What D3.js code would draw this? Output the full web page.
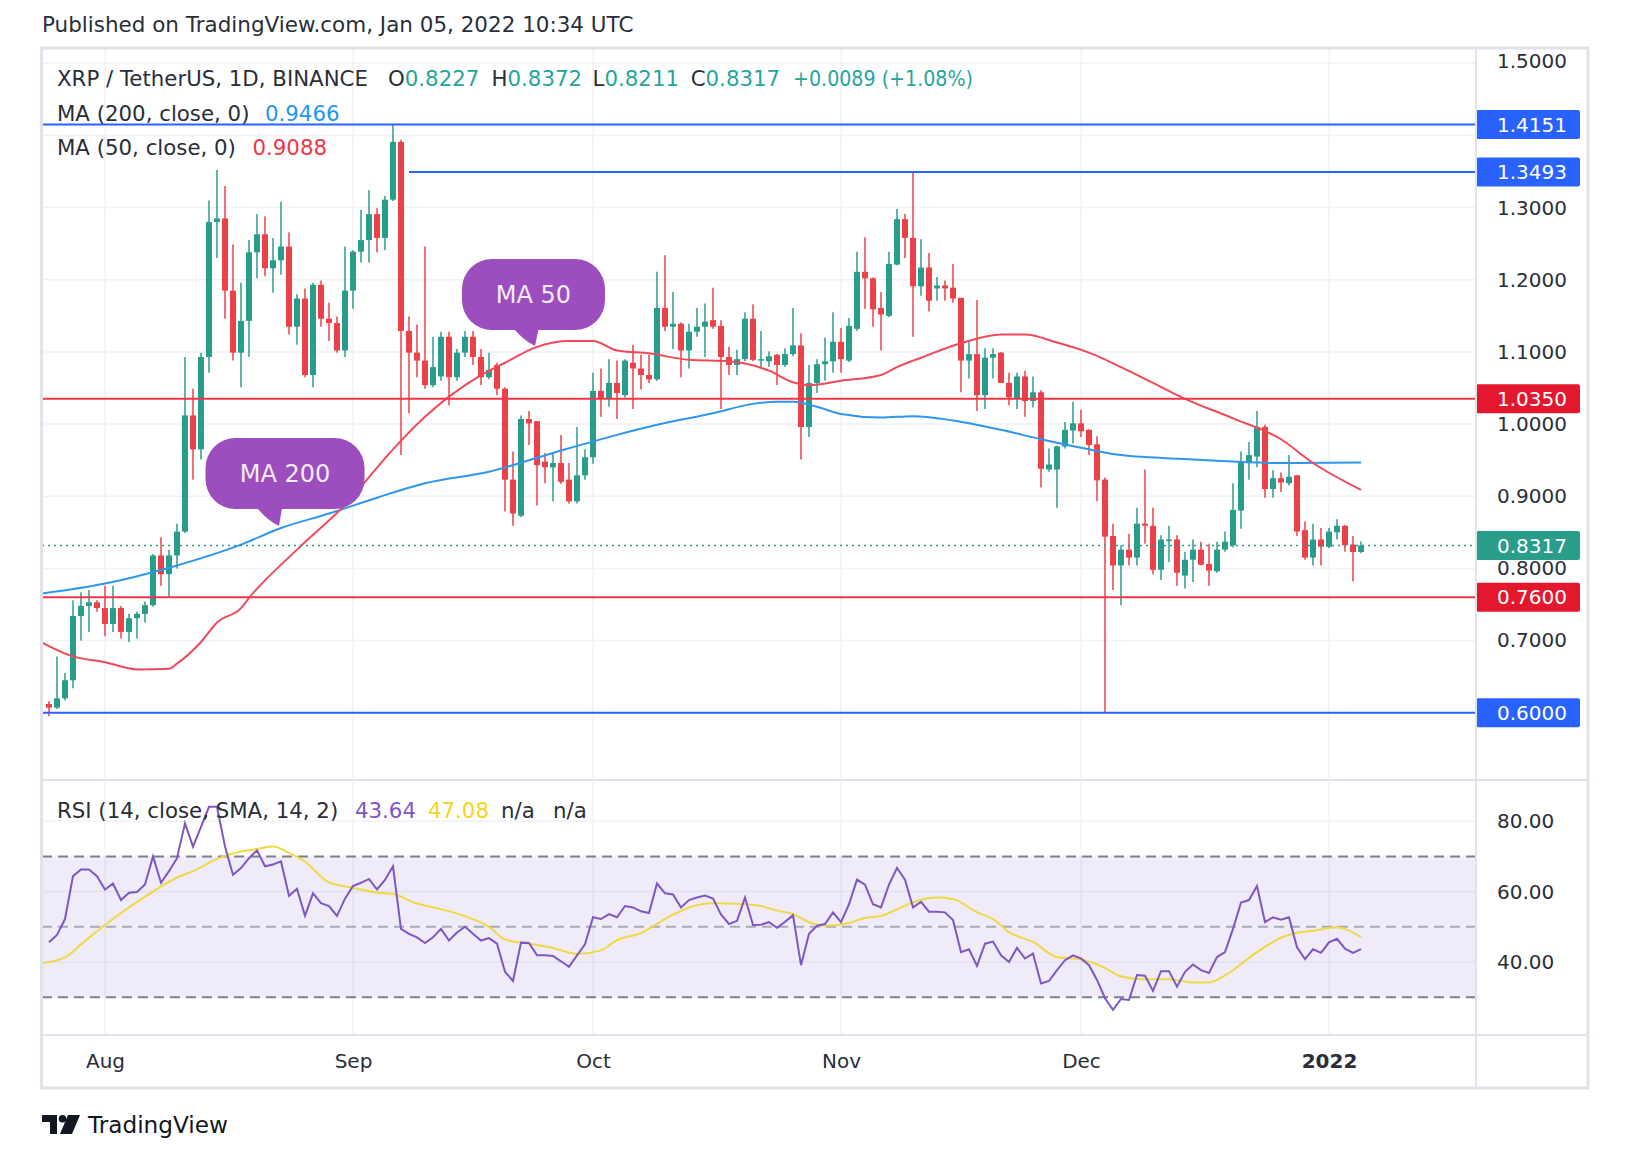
<!DOCTYPE html>
<html><head><meta charset="utf-8"><title>XRP / TetherUS</title>
<script src="https://cdn.jsdelivr.net/npm/d3@7/dist/d3.min.js"></script>
<style>html,body{margin:0;padding:0;background:#fff;}svg{display:block;}text{font-family:"DejaVu Sans",Verdana,sans-serif;}</style>
</head><body>
<svg id="chart" width="1636" height="1152"></svg>
<script>
// ---------------- DATA ----------------
const startDay = "2021-07-25"; // first daily candle, one candle per day
const opens = [0.612,0.607,0.620,0.645,0.734,0.748,0.753,0.745,0.723,0.745,
0.712,0.731,0.737,0.749,0.818,0.792,0.818,0.851,1.012,0.965,
1.093,1.280,1.285,1.185,1.099,1.143,1.238,1.263,1.216,1.227,
1.246,1.135,1.174,1.068,1.193,1.146,1.140,1.102,1.185,1.239,
1.255,1.291,1.258,1.311,1.391,1.129,1.099,1.088,1.054,1.066,
1.121,1.065,1.099,1.121,1.093,1.065,1.082,1.049,0.923,0.873,
1.007,1.004,0.948,0.940,0.946,0.923,0.893,0.929,0.954,1.046,
1.035,1.057,1.040,1.085,1.077,1.068,1.062,1.161,1.135,1.139,
1.102,1.128,1.135,1.144,1.136,1.093,1.082,1.090,1.146,1.089,
1.087,1.096,1.082,1.097,1.109,0.996,1.057,1.083,1.087,1.114,
1.088,1.132,1.211,1.202,1.161,1.150,1.221,1.284,1.258,1.191,
1.217,1.188,1.192,1.189,1.175,1.088,1.097,1.040,1.092,1.099,
1.057,1.035,1.066,1.032,1.044,0.937,0.937,0.969,0.991,1.001,
0.992,0.972,0.923,0.845,0.804,0.826,0.815,0.862,0.859,0.798,
0.838,0.840,0.790,0.812,0.826,0.806,0.796,0.826,0.832,0.880,
0.946,0.955,0.996,0.910,0.925,0.918,0.929,0.853,0.815,0.840,
0.830,0.850,0.859,0.833,0.8227];
const highs = [0.616,0.678,0.655,0.756,0.767,0.770,0.756,0.776,0.776,0.748,
0.737,0.740,0.754,0.820,0.843,0.826,0.862,1.093,1.049,1.099,
1.310,1.352,1.330,1.249,1.196,1.255,1.291,1.288,1.258,1.308,
1.266,1.180,1.188,1.196,1.199,1.168,1.149,1.246,1.241,1.297,
1.324,1.299,1.316,1.4151,1.394,1.149,1.138,1.246,1.121,1.128,
1.128,1.104,1.129,1.129,1.104,1.099,1.085,1.051,0.962,1.012,
1.018,1.004,0.960,0.960,0.985,0.946,0.996,0.965,1.071,1.077,
1.090,1.088,1.090,1.110,1.096,1.096,1.211,1.234,1.183,1.141,
1.139,1.161,1.167,1.189,1.144,1.107,1.103,1.155,1.166,1.129,
1.101,1.097,1.105,1.161,1.126,1.082,1.090,1.120,1.155,1.133,
1.147,1.239,1.259,1.203,1.183,1.239,1.298,1.291,1.3493,1.256,
1.237,1.204,1.199,1.222,1.175,1.114,1.172,1.105,1.105,1.100,
1.071,1.071,1.074,1.066,1.047,0.966,0.970,1.003,1.031,1.020,
0.993,0.983,0.926,0.862,0.832,0.848,0.884,0.937,0.884,0.846,
0.859,0.846,0.823,0.840,0.837,0.834,0.837,0.851,0.918,0.962,
0.975,1.018,0.999,0.936,0.933,0.957,0.929,0.865,0.862,0.856,
0.856,0.868,0.860,0.845,0.8372];
const lows = [0.595,0.605,0.617,0.634,0.700,0.712,0.740,0.706,0.712,0.703,
0.698,0.703,0.725,0.747,0.776,0.759,0.800,0.849,0.923,0.951,
1.071,1.230,1.146,1.088,1.051,1.093,1.202,1.205,1.182,1.207,
1.124,1.110,1.065,1.051,1.135,1.115,1.099,1.093,1.160,1.224,
1.224,1.238,1.241,1.309,0.957,1.015,1.065,1.049,1.051,1.060,
1.026,1.060,1.093,1.082,1.054,1.062,1.040,0.879,0.859,0.871,
0.971,0.887,0.918,0.893,0.917,0.890,0.890,0.923,0.945,1.010,
1.024,1.007,1.037,1.021,1.048,1.057,1.060,1.129,1.104,1.065,
1.077,1.121,1.093,1.132,1.021,1.068,1.068,1.087,1.087,1.079,
1.079,1.054,1.079,1.094,0.951,0.982,1.043,1.060,1.071,1.071,
1.086,1.129,1.160,1.135,1.102,1.148,1.220,1.230,1.121,1.178,
1.156,1.171,1.171,1.168,1.044,1.063,1.018,1.021,1.063,1.057,
1.026,1.021,1.010,1.023,0.912,0.934,0.884,0.966,0.973,0.982,
0.957,0.893,0.600,0.770,0.749,0.804,0.804,0.834,0.792,0.784,
0.809,0.776,0.772,0.781,0.804,0.776,0.794,0.823,0.829,0.855,
0.923,0.940,0.898,0.898,0.906,0.915,0.845,0.812,0.804,0.804,
0.828,0.840,0.823,0.782,0.8211];
const closes = [0.607,0.620,0.645,0.734,0.748,0.753,0.745,0.723,0.745,0.712,
0.731,0.737,0.749,0.818,0.792,0.818,0.851,1.012,0.965,1.093,
1.280,1.285,1.185,1.099,1.143,1.238,1.263,1.216,1.227,1.246,
1.135,1.174,1.068,1.193,1.146,1.140,1.102,1.185,1.239,1.255,
1.291,1.258,1.311,1.391,1.129,1.099,1.088,1.054,1.079,1.121,
1.065,1.099,1.121,1.093,1.065,1.075,1.049,0.923,0.876,1.007,
1.001,0.943,0.940,0.946,0.920,0.893,0.929,0.954,1.046,1.035,
1.057,1.043,1.088,1.077,1.068,1.062,1.161,1.135,1.139,1.102,
1.128,1.135,1.142,1.135,1.093,1.082,1.090,1.146,1.089,1.090,
1.094,1.082,1.097,1.109,0.996,1.057,1.083,1.087,1.114,1.090,
1.136,1.211,1.202,1.159,1.152,1.222,1.284,1.258,1.191,1.217,
1.171,1.192,1.188,1.174,1.088,1.097,1.040,1.092,1.097,1.057,
1.037,1.066,1.032,1.044,0.938,0.944,0.969,0.992,1.001,0.990,
0.971,0.922,0.844,0.804,0.826,0.815,0.862,0.859,0.798,0.840,
0.840,0.794,0.812,0.826,0.805,0.797,0.826,0.837,0.881,0.947,
0.957,0.996,0.910,0.925,0.919,0.927,0.851,0.815,0.840,0.830,
0.851,0.859,0.832,0.8227,0.8317];

// Moving averages (day offset from startDay, value)
const ma50Day   = [-1,3,7,11,15,16,19,21,24,25,31,37,43,47,50,54,57,61,65,68,71,75,80,85,90,93,95,99,104,106,109,114,119,122,126,130,134,138,142,148,154,158,164];
const ma50Value = [0.698,0.678,0.670,0.660,0.661,0.668,0.698,0.725,0.745,0.759,0.826,0.888,0.965,1.010,1.038,1.068,1.085,1.107,1.115,1.115,1.102,1.098,1.089,1.087,1.074,1.058,1.054,1.060,1.068,1.079,1.092,1.112,1.124,1.124,1.113,1.099,1.079,1.057,1.035,1.008,0.979,0.946,0.9088];
const ma200Day   = [-1,7,15,24,29,35,41,47,55,63,71,76,83,88,91,93,96,99,104,108,113,119,124,130,134,143,148,154,164];
const ma200Value = [0.765,0.779,0.801,0.833,0.856,0.876,0.898,0.918,0.934,0.960,0.985,0.999,1.015,1.028,1.031,1.031,1.024,1.014,1.009,1.011,1.005,0.992,0.979,0.965,0.957,0.951,0.948,0.946,0.9466];

// RSI (14) one value per candle
const rsiValues = [45.6,47.7,52.2,64.4,66.3,66.3,64.4,60.6,62.3,57.6,
59.7,59.9,62.0,70.0,62.5,65.8,69.5,79.4,72.8,78.4,
84.1,84.1,72.8,64.8,66.7,69.5,71.7,67.2,67.7,68.6,
58.8,60.8,53.1,59.5,56.7,55.9,53.1,58.0,61.6,62.5,
63.6,60.6,63.3,67.2,49.4,48.0,47.0,45.4,47.0,49.4,
46.1,48.4,50.0,48.0,46.1,46.8,45.2,37.2,34.6,45.5,
45.4,41.9,41.9,41.7,40.2,38.6,41.9,45.0,52.7,52.2,
53.6,52.7,55.9,55.5,54.4,53.9,62.3,59.5,59.2,55.5,
57.6,58.3,58.9,58.0,53.5,50.8,51.7,58.3,50.5,50.6,
51.3,49.7,51.4,53.3,39.1,48.0,50.3,50.8,54.1,51.3,
56.4,63.4,62.0,56.4,55.5,62.0,66.7,63.4,55.5,57.1,
54.3,54.3,54.1,51.9,42.8,43.6,38.9,45.2,45.8,41.9,
40.0,44.0,41.0,42.4,33.9,34.6,37.7,40.5,41.9,41.0,
39.1,34.9,29.7,26.4,29.5,29.2,36.3,36.1,31.8,37.4,
37.4,33.0,37.2,39.3,37.7,36.9,41.4,42.8,49.4,56.9,
57.6,61.6,51.3,52.7,52.0,52.7,44.2,40.8,43.6,42.6,
45.6,46.6,43.8,42.6,43.64];
// RSI-based SMA (14) read at sample days
const rsiMaDay   = [-1,2,4,7,10,13,16,18,21,24,26,28,30,32,35,38,41,43,46,49,52,55,57,60,63,66,69,71,74,77,80,83,87,89,91,93,95,97,100,102,104,107,109,111,113,116,118,120,123,126,129,132,134,137,140,143,145,147,151,154,156,158,161,162,164];
const rsiMaValue = [39.6,41.3,45.0,50.5,55.5,60.0,64.0,65.8,69.3,71.4,72.1,72.8,71.0,68.5,62.6,61.1,59.7,59.3,56.6,55.0,53.0,50.0,46.4,45.2,44.0,42.3,43.3,46.2,48.2,52.2,55.5,56.7,56.4,55.9,54.6,53.6,51.3,50.3,51.1,52.5,53.1,56.0,57.7,58.3,57.9,54.1,52.2,48.5,45.7,41.4,40.7,38.3,35.9,35.1,35.1,34.2,34.2,36.2,42.8,46.9,48.3,48.9,49.9,49.4,47.08];

// Axis ticks and drawn levels
const monthTicks = ["2021-08-01","2021-09-01","2021-10-01","2021-11-01","2021-12-01","2022-01-01"];
const priceTicks = [1.5,1.3,1.2,1.1,1.0,0.9,0.8,0.7];
const priceGrid  = [1.5,1.4,1.3,1.2,1.1,1.0,0.9,0.8,0.7,0.6];
const rsiTicks   = [80,60,40];
const rsiGuides  = [70,50,30];
const rangeLevels     = [1.4151,1.3493,0.6000];
const rangeLevelStart = [-1,45,-1];
const keyLevels       = [1.0350,0.7600];
const lastPrice = 0.8317;
const ma200Last = 0.9466, ma50Last = 0.9088, rsiLast = 43.64, rsiMaLast = 47.08;
const ohlcText = ["0.8227","0.8372","0.8211","0.8317"];
const changeText = "+0.0089 (+1.08%)";

// ---------------- LAYOUT ----------------
const svg = d3.select("#chart");
const FONT = '"DejaVu Sans",Verdana,sans-serif';
const UP = "#2a9d8a", DN = "#ec4149", BLUE = "#2962ff", RED = "#f23645", REDLBL = "#e3182f";
const GRID = "#f0f2f6", BORDER = "#e0e3eb", TXT = "#2a2e39";
const L = 42, R = 1476, PT = 48, PB = 780, RB = 1035, AB = 1088, FR = 1588;
const LEG = 21.3;

const parse = d3.utcParse("%Y-%m-%d");
const d0 = parse(startDay);
const dayAt = i => d3.utcDay.offset(d0, i);
const x = d3.scaleUtc().domain([dayAt(0), dayAt(164)]).range([49, 1361]);
const y = d3.scaleLinear().domain([0.6, 1.5]).range([712.7, 63.3]);
const yr = d3.scaleLinear().domain([30, 70]).range([997.2, 856.4]);

svg.append("rect").attr("width", 1636).attr("height", 1152).attr("fill", "#fff");
const defs = svg.append("defs");
defs.append("clipPath").attr("id", "cp").append("rect").attr("x", L).attr("y", PT).attr("width", R - L).attr("height", PB - PT);
defs.append("clipPath").attr("id", "cr").append("rect").attr("x", L).attr("y", PB).attr("width", R - L).attr("height", RB - PB);

// header
const hdr = svg.append("text").attr("x", 42).attr("y", 32).attr("font-size", 20).attr("fill", TXT)
  .text("Published on TradingView.com, Jan 05, 2022 10:34 UTC");
hdr.attr("font-size", 20 * 592 / hdr.node().getComputedTextLength());

// grids
const months = monthTicks.map(parse);
svg.append("g").selectAll("line").data(months).join("line")
  .attr("x1", d => x(d)).attr("x2", d => x(d)).attr("y1", PT).attr("y2", RB)
  .attr("stroke", GRID).attr("stroke-width", 1.5);
svg.append("g").selectAll("line").data(priceGrid).join("line")
  .attr("x1", L).attr("x2", R).attr("y1", d => y(d)).attr("y2", d => y(d))
  .attr("stroke", GRID).attr("stroke-width", 1.5);
svg.append("g").selectAll("line").data(rsiTicks).join("line")
  .attr("x1", L).attr("x2", R).attr("y1", d => yr(d)).attr("y2", d => yr(d))
  .attr("stroke", GRID).attr("stroke-width", 1.5);

// RSI band
svg.append("rect").attr("x", L).attr("width", R - L).attr("y", yr(70)).attr("height", yr(30) - yr(70))
  .attr("fill", "rgba(126,87,194,0.12)");
svg.append("g").selectAll("line").data(rsiGuides).join("line")
  .attr("x1", L).attr("x2", R).attr("y1", d => yr(d)).attr("y2", d => yr(d))
  .attr("stroke", d => d === 50 ? "#a9abb3" : "#7d808a").attr("stroke-width", 2)
  .attr("stroke-dasharray", "10,6");

// price pane
const gp = svg.append("g").attr("clip-path", "url(#cp)");
const candles = opens.map((o, i) => ({ d: dayAt(i), o, h: highs[i], l: lows[i], c: closes[i] }));
gp.append("g").selectAll("line").data(candles).join("line")
  .attr("x1", d => x(d.d)).attr("x2", d => x(d.d)).attr("y1", d => y(d.h)).attr("y2", d => y(d.l))
  .attr("stroke", d => d.c >= d.o ? UP : DN).attr("stroke-width", 1.5);
gp.append("g").selectAll("rect").data(candles).join("rect")
  .attr("x", d => x(d.d) - 3).attr("width", 6)
  .attr("y", d => y(Math.max(d.o, d.c))).attr("height", d => Math.max(1.5, Math.abs(y(d.o) - y(d.c))))
  .attr("fill", d => d.c >= d.o ? UP : DN);

const lineP = d3.line().x(d => x(dayAt(d[0]))).y(d => y(d[1])).curve(d3.curveMonotoneX);
gp.append("path").attr("d", lineP(ma200Day.map((d, i) => [d, ma200Value[i]])))
  .attr("fill", "none").attr("stroke", "#2f96f0").attr("stroke-width", 2);
gp.append("path").attr("d", lineP(ma50Day.map((d, i) => [d, ma50Value[i]])))
  .attr("fill", "none").attr("stroke", "#f04a5a").attr("stroke-width", 2);

// levels
rangeLevels.forEach((v, i) => {
  gp.append("line").attr("x1", x(dayAt(rangeLevelStart[i]))).attr("x2", R).attr("y1", y(v)).attr("y2", y(v))
    .attr("stroke", BLUE).attr("stroke-width", 2);
});
keyLevels.forEach(v => {
  gp.append("line").attr("x1", L).attr("x2", R).attr("y1", y(v)).attr("y2", y(v))
    .attr("stroke", RED).attr("stroke-width", 2);
});
gp.append("line").attr("x1", L).attr("x2", R).attr("y1", y(lastPrice)).attr("y2", y(lastPrice))
  .attr("stroke", UP).attr("stroke-width", 1.6).attr("stroke-dasharray", "2,4");

// callouts
function bubble(bx, by, bw, bh, tail, label) {
  const g = svg.append("g");
  g.append("path").attr("d", tail).attr("fill", "#9c4dbe");
  g.append("rect").attr("x", bx).attr("y", by).attr("width", bw).attr("height", bh).attr("rx", 30).attr("fill", "#9c4dbe");
  g.append("text").attr("x", bx + bw / 2).attr("y", by + bh / 2).attr("dy", "0.36em").attr("text-anchor", "middle")
    .attr("font-size", 24).attr("fill", "#f4ecf8").text(label);
}
bubble(462, 259, 143, 71, "M508,322 Q522,340 535,346 L540,322 Z", "MA 50");
bubble(205.5, 438, 159, 71, "M252,502 Q266,520 279,526 L283,502 Z", "MA 200");

// RSI pane
const gr = svg.append("g").attr("clip-path", "url(#cr)");
const lineR = d3.line().x(d => x(dayAt(d[0]))).y(d => yr(d[1]));
gr.append("path").attr("d", lineR.curve(d3.curveMonotoneX)(rsiMaDay.map((d, i) => [d, rsiMaValue[i]])))
  .attr("fill", "none").attr("stroke", "#efd944").attr("stroke-width", 2);
gr.append("path").attr("d", d3.line().x(d => x(dayAt(d[0]))).y(d => yr(d[1]))(rsiValues.map((v, i) => [i, v])))
  .attr("fill", "none").attr("stroke", "#7e57c2").attr("stroke-width", 2);

// legends
function legendLine(yy, parts) {
  const t = svg.append("text").attr("y", yy).attr("font-size", LEG);
  parts.forEach(p => t.append("tspan").attr("x", p[0]).attr("fill", p[2]).text(p[1]));
  return t;
}
const GV = "#26a69a";
const lg = svg.append("text").attr("y", 86).attr("font-size", LEG);
lg.append("tspan").attr("x", 57).attr("fill", TXT).text("XRP / TetherUS, 1D, BINANCE");
["O", "H", "L", "C"].forEach((k, i) => {
  const xs = [388, 491.5, 592.6, 690.7][i];
  lg.append("tspan").attr("x", xs).attr("fill", TXT).text(k);
  lg.append("tspan").attr("fill", GV).text(ohlcText[i]);
});
const chg = lg.append("tspan").attr("x", 793).attr("fill", GV).text(changeText);
chg.attr("textLength", 180).attr("lengthAdjust", "spacingAndGlyphs");
legendLine(121, [[57, "MA (200, close, 0)", TXT], [265, d3.format(".4f")(ma200Last), "#2196f3"]]);
legendLine(155, [[57, "MA (50, close, 0)", TXT], [252.5, d3.format(".4f")(ma50Last), RED]]);
legendLine(818, [[57, "RSI (14, close, SMA, 14, 2)", TXT], [355, d3.format(".2f")(rsiLast), "#7e57c2"],
  [428, d3.format(".2f")(rsiMaLast), "#f2d619"], [501, "n/a", TXT], [553, "n/a", TXT]]);

// price axis
const ax = svg.append("g").attr("transform", `translate(${R},0)`)
  .call(d3.axisRight(y).tickValues(priceTicks).tickFormat(d3.format(".4f")).tickSize(0).tickPadding(21));
ax.select(".domain").remove();
ax.selectAll("text").attr("font-family", FONT).attr("font-size", 20).attr("fill", TXT)
  .attr("dy", d => d === 1.5 ? "0.2em" : "0.32em");
const axr = svg.append("g").attr("transform", `translate(${R},0)`)
  .call(d3.axisRight(yr).tickValues(rsiTicks).tickFormat(d3.format(".2f")).tickSize(0).tickPadding(21));
axr.select(".domain").remove();
axr.selectAll("text").attr("font-family", FONT).attr("font-size", 20).attr("fill", TXT);

// price labels
function priceLabel(v, bg) {
  svg.append("rect").attr("x", R).attr("y", y(v) - 14.5).attr("width", 104).attr("height", 29).attr("rx", 2).attr("fill", bg);
  svg.append("text").attr("x", R + 21).attr("y", y(v)).attr("dy", "0.36em").attr("font-size", 20).attr("fill", "#fff")
    .text(d3.format(".4f")(v));
}
rangeLevels.forEach(v => priceLabel(v, BLUE));
keyLevels.forEach(v => priceLabel(v, REDLBL));
priceLabel(lastPrice, UP);

// time axis
const tx = svg.append("g").attr("transform", `translate(0,${RB})`)
  .call(d3.axisBottom(x).tickValues(months).tickSize(0)
    .tickFormat(d => d.getUTCMonth() === 0 ? d3.utcFormat("%Y")(d) : d3.utcFormat("%b")(d)));
tx.select(".domain").remove();
tx.selectAll("text").attr("font-family", FONT).attr("font-size", 20).attr("fill", TXT)
  .attr("y", 26).attr("dy", "0.36em")
  .attr("font-weight", d => d.getUTCMonth() === 0 ? "bold" : "normal");

// separators & frame
svg.append("line").attr("x1", L).attr("x2", FR).attr("y1", PB).attr("y2", PB).attr("stroke", BORDER).attr("stroke-width", 2);
svg.append("line").attr("x1", L).attr("x2", FR).attr("y1", RB).attr("y2", RB).attr("stroke", BORDER).attr("stroke-width", 2);
svg.append("line").attr("x1", R).attr("x2", R).attr("y1", PT).attr("y2", AB).attr("stroke", BORDER).attr("stroke-width", 2);
svg.append("rect").attr("x", 41.5).attr("y", 48).attr("width", FR - 41.5).attr("height", AB - 48)
  .attr("fill", "none").attr("stroke", BORDER).attr("stroke-width", 3);

// footer logo
const lgG = svg.append("g").attr("transform", "translate(42,1115)").attr("fill", "#131722");
lgG.append("path").attr("d", "M0,0 H15 V19 H8 V7 H0 Z");
lgG.append("circle").attr("cx", 20.5).attr("cy", 3.8).attr("r", 3.8);
lgG.append("path").attr("d", "M26,0 H38 L30,19 H18 Z");
const tvt = svg.append("text").attr("x", 88).attr("y", 1133).attr("font-size", 22).attr("fill", "#131722")
  .attr("font-family", "Roboto, 'Open Sans', sans-serif").text("TradingView");
tvt.attr("font-size", 22 * 140 / tvt.node().getComputedTextLength());
</script>
</body></html>
